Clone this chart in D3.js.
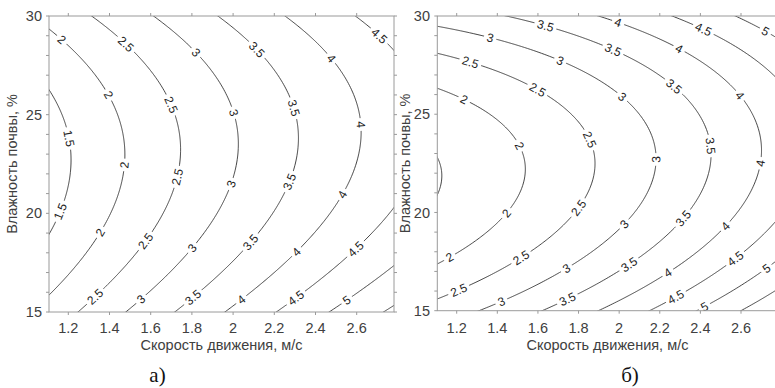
<!DOCTYPE html>
<html><head><meta charset="utf-8">
<script src="https://cdn.jsdelivr.net/npm/d3@7"></script>
<style>body{margin:0;background:#fff}svg{display:block}</style>
</head><body>
<svg id="c" width="775" height="388"></svg>
<script>
// ---- data ----
const contourLevels = [1.5, 2, 2.5, 3, 3.5, 4, 4.5, 5, 5.5];
const xTickValues = [1.2, 1.4, 1.6, 1.8, 2, 2.2, 2.4, 2.6];
const yTickLabels = [15, 20, 25, 30];
const yMinorTicks = [15,16,17,18,19,20,21,22,23,24,25,26,27,28,29,30];
// response surface coefficients estimated from the contours:
// z = A + B·d + C·d² + E·(w − W0 − K·d)²,  d = v − V0
// [A, B, C, E, W0, K, V0]
const surfaceA = [1.29, 1.97, -0.12, 0.0156, 22.6, 1.0, 1.106];
const surfaceB = [1.476, 1.07, 0.32, 0.0262, 21.85, 0.82, 1.1045];
// contour labels: [level, speed, moisture]
const labelsA = [
 [2,1.168,28.78],[2.5,1.491,28.7],[3,1.823,28.19],[3.5,2.114,28.28],[4,2.47,27.8],[4.5,2.705,28.95],
 [2,1.394,26.0],[2.5,1.693,25.49],[3,2.001,25.07],[3.5,2.292,25.32],[4,2.616,24.48],
 [1.5,1.2,23.8],[2,1.483,22.45],[2.5,1.734,21.86],[3,2.001,21.43],[3.5,2.268,21.6],[4,2.535,20.93],
 [1.5,1.168,20.08],[2,1.362,18.99],[2.5,1.58,18.56],[3,1.806,18.23],[3.5,2.082,18.56],[4,2.308,18.05],[4.5,2.591,18.23],
 [2.5,1.338,15.69],[3,1.556,15.61],[3.5,1.806,15.69],[4,2.041,15.61],[4.5,2.308,15.69],[5,2.551,15.61]
];
const labelsB = [
 [3.5,1.636,29.49],[4,1.997,29.76],[4.5,2.415,29.29],[5,2.719,29.25],
 [3,1.365,28.86],[3.5,1.969,28.24],[4,2.292,28.24],
 [2.5,1.266,27.59],[3,1.709,27.71],[3.5,2.263,26.32],[4,2.588,25.9],
 [2,1.237,25.73],[2.5,1.595,26.2],[3,2.013,25.86],
 [2,1.504,23.4],[2.5,1.841,23.65],[3,2.177,22.71],[3.5,2.427,23.35],[4,2.686,22.5],
 [2,1.447,19.96],[2.5,1.8,20.21],[3,2.021,19.45],[3.5,2.309,19.79],[4,2.514,19.36],
 [2,1.168,17.67],[2.5,1.521,17.67],[3,1.742,17.16],[3.5,2.054,17.24],[4,2.235,16.99],[4.5,2.572,17.67],[5,2.719,17.24],
 [2.5,1.217,15.89],[3,1.422,15.38],[3.5,1.742,15.63],[4.5,2.276,15.71],[5,2.415,15.29]
];
const xTitle = "Скорость движения, м/с";
const yTitle = "Влажность почвы, %";
const captions = ["а)", "б)"];

// ---- layout ----
const svg = d3.select("#c");
const sans = "'Liberation Sans', Arial, sans-serif";
const axisColor = "#9a9a9a", textColor = "#404040", lineColor = "#2e2e2e";

const panels = [
  {surf: surfaceA, labels: labelsA, xr: [68.3, 356.7], px: [49, 394], yr: [312, 16], cap: captions[0], capX: 157.5, yTitleX: 16.5, yTickX: 42},
  {surf: surfaceB, labels: labelsB, xr: [456.7, 741], px: [437.3, 777.6], yr: [310.7, 16], cap: captions[1], capX: 630, yTitleX: 410, yTickX: 430}
];

function surface(c, v, w) {
  const d = v - c[6];
  const t = w - c[4] - c[5] * d;
  return c[0] + c[1] * d + c[2] * d * d + c[3] * t * t;
}

// sampling grid (wider than the plot, clipped later)
const gv0 = 0.95, gvs = 0.005, nx = 401;
const gw0 = 13.5, gws = 0.05, ny = 361;
const gx = d3.scaleLinear().domain([0.5, nx - 0.5]).range([gv0, gv0 + (nx - 1) * gvs]);
const gy = d3.scaleLinear().domain([0.5, ny - 0.5]).range([gw0, gw0 + (ny - 1) * gws]);

const defs = svg.append("defs");

panels.forEach((p, pi) => {
  const x = d3.scaleLinear().domain([1.2, 2.6]).range(p.xr);
  const y = d3.scaleLinear().domain([15, 30]).range(p.yr);
  const X0 = p.px[0], X1 = p.px[1], Y0 = p.yr[1], Y1 = p.yr[0];

  defs.append("clipPath").attr("id", "clip" + pi)
    .append("rect").attr("x", X0).attr("y", Y0).attr("width", X1 - X0).attr("height", Y1 - Y0);

  const values = new Float64Array(nx * ny);
  for (let j = 0; j < ny; j++) for (let i = 0; i < nx; i++)
    values[j * nx + i] = surface(p.surf, gv0 + i * gvs, gw0 + j * gws);
  const cs = d3.contours().size([nx, ny]).thresholds(contourLevels)(values);

  const ringsByLevel = new Map();
  cs.forEach(c => {
    const rings = [];
    c.coordinates.forEach(poly => poly.forEach(r => rings.push(r.map(pt => [x(gx(pt[0])), y(gy(pt[1]))]))));
    ringsByLevel.set(c.value, rings);
  });

  const mask = defs.append("mask").attr("id", "mask" + pi).attr("maskUnits", "userSpaceOnUse")
    .attr("x", 0).attr("y", 0).attr("width", 800).attr("height", 400);
  mask.append("rect").attr("x", 0).attr("y", 0).attr("width", 800).attr("height", 400).attr("fill", "#fff");

  const gc = svg.append("g").attr("clip-path", `url(#clip${pi})`);
  const gl = gc.append("g").attr("mask", `url(#mask${pi})`);
  const line = d3.line();
  ringsByLevel.forEach((rings, lv) => {
    rings.forEach(r => {
      gl.append("path").attr("d", line(r) + "Z").attr("fill", "none")
        .attr("stroke", lineColor).attr("stroke-width", 0.9);
    });
  });

  const gt = gc.append("g");
  p.labels.forEach(([lv, v, w]) => {
    const rings = ringsByLevel.get(lv);
    if (!rings) return;
    const tx = x(v), ty = y(w);
    let best = null, bd = Infinity;
    rings.forEach(r => r.forEach((pt, k) => {
      const d = (pt[0] - tx) ** 2 + (pt[1] - ty) ** 2;
      if (d < bd) { bd = d; best = [r, k]; }
    }));
    const [r, k] = best;
    const n = r.length;
    const a = r[(k - 4 + n) % n], b = r[(k + 4) % n], c = r[k];
    let ang = Math.atan2(b[1] - a[1], b[0] - a[0]) * 180 / Math.PI;
    while (ang > 90) ang -= 180;
    while (ang <= -90) ang += 180;
    const t = gt.append("text").attr("transform", `translate(${c[0]},${c[1]}) rotate(${ang})`)
      .attr("text-anchor", "middle").attr("dy", "0.35em")
      .attr("font-family", sans).attr("font-size", 12).attr("fill", "#222").text(String(lv));
    const tw = t.node().getComputedTextLength();
    mask.append("rect").attr("transform", `translate(${c[0]},${c[1]}) rotate(${ang})`)
      .attr("x", -tw / 2 - 3).attr("y", -5).attr("width", tw + 6).attr("height", 10).attr("fill", "#000");
  });

  const ga = svg.append("g").attr("stroke", axisColor).attr("stroke-width", 1).attr("fill", "none");
  ga.append("rect").attr("x", X0).attr("y", Y0).attr("width", X1 - X0).attr("height", Y1 - Y0);
  xTickValues.forEach(t => {
    ga.append("line").attr("x1", x(t)).attr("x2", x(t)).attr("y1", Y1).attr("y2", Y1 + 3);
    ga.append("line").attr("x1", x(t)).attr("x2", x(t)).attr("y1", Y0).attr("y2", Y0 - 3);
  });
  yMinorTicks.forEach(t => {
    ga.append("line").attr("x1", X0 - 3).attr("x2", X0).attr("y1", y(t)).attr("y2", y(t));
    ga.append("line").attr("x1", X1).attr("x2", X1 + 3).attr("y1", y(t)).attr("y2", y(t));
  });

  const gtx = svg.append("g").attr("font-family", sans).attr("font-size", 14.5).attr("fill", textColor);
  xTickValues.forEach(t => {
    gtx.append("text").attr("x", x(t)).attr("y", 333).attr("text-anchor", "middle").text(String(t));
  });
  yTickLabels.forEach(t => {
    gtx.append("text").attr("x", p.yTickX).attr("y", y(t)).attr("dy", "0.35em").attr("text-anchor", "end").text(String(t));
  });
  svg.append("text").attr("x", (X0 + X1) / 2).attr("y", 350).attr("text-anchor", "middle")
    .attr("font-family", sans).attr("font-size", 14.5).attr("fill", textColor).text(xTitle);
  svg.append("text").attr("transform", `translate(${p.yTitleX},${(Y0 + Y1) / 2}) rotate(-90)`)
    .attr("text-anchor", "middle").attr("font-family", sans).attr("font-size", 14.5).attr("fill", textColor).text(yTitle);
  svg.append("text").attr("x", p.capX).attr("y", 382).attr("text-anchor", "middle")
    .attr("font-family", "'Liberation Serif', 'Times New Roman', serif").attr("font-size", 21).attr("fill", "#111").text(p.cap);
});
</script>
</body></html>
